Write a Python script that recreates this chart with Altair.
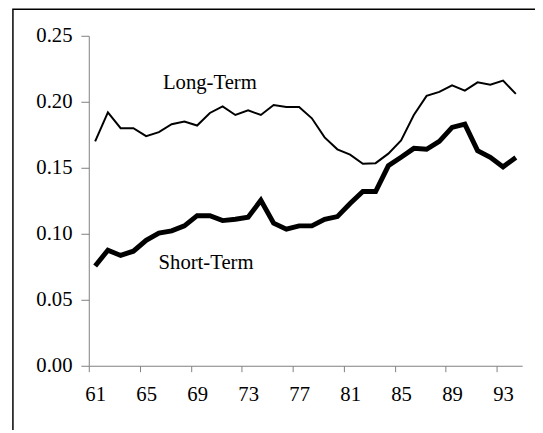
import altair as alt
import pandas as pd

years = list(range(61, 95))
long_term = [0.170, 0.192, 0.180, 0.180, 0.174, 0.177, 0.183, 0.185, 0.182, 0.1915,
             0.1965, 0.190, 0.1935, 0.190, 0.1975, 0.196, 0.196, 0.1875, 0.173, 0.164,
             0.160, 0.153, 0.1535, 0.1607, 0.1707, 0.190, 0.2045, 0.2075, 0.2125, 0.2085,
             0.2147, 0.213, 0.216, 0.206]
short_term = [0.0756, 0.0876, 0.0836, 0.0868, 0.095, 0.1005, 0.1022, 0.106, 0.1137, 0.1137,
              0.110, 0.111, 0.1125, 0.1254, 0.108, 0.1035, 0.106, 0.106, 0.111, 0.113,
              0.123, 0.132, 0.132, 0.1515, 0.158, 0.1647, 0.164, 0.170, 0.1806, 0.183,
              0.163, 0.158, 0.1507, 0.1577]
label_text = ["Long-Term", "Short-Term"]
label_year = [70.0, 69.7]
label_value = [0.2144, 0.0776]
tick_values = [60.5, 64.5, 68.5, 72.5, 76.5, 80.5, 84.5, 88.5, 92.5]

df = pd.DataFrame({"year": years, "Long-Term": long_term, "Short-Term": short_term})
labels = pd.DataFrame({"text": label_text, "year": label_year, "value": label_value})

FONT = "Liberation Serif"
FS = 21

xscale = alt.Scale(domain=[60.5, 94.5], nice=False, zero=False)
yscale = alt.Scale(domain=[0, 0.25], nice=False)

xaxis = alt.Axis(values=tick_values, labelExpr="format(datum.value + 0.5, 'd')",
                 labelOffset=6.5, grid=False, title=None, domainColor="#808080",
                 tickColor="#808080", tickSize=6, labelFont=FONT, labelFontSize=FS,
                 labelColor="black", labelPadding=12, labelFlush=False)
yaxis = alt.Axis(values=[0, 0.05, 0.1, 0.15, 0.2, 0.25], format=".2f", grid=False,
                 title=None, domainColor="#808080", tickColor="#808080", tickSize=8,
                 labelFont=FONT, labelFontSize=FS, labelColor="black", labelPadding=9)

base = alt.Chart(df)
long_line = base.mark_line(color="black", strokeWidth=2).encode(
    x=alt.X("year:Q", scale=xscale, axis=xaxis),
    y=alt.Y("Long-Term:Q", scale=yscale, axis=yaxis),
)
short_line = base.mark_line(color="black", strokeWidth=5, strokeJoin="miter").encode(
    x=alt.X("year:Q", scale=xscale),
    y=alt.Y("Short-Term:Q", scale=yscale),
)
text = alt.Chart(labels).mark_text(font=FONT, fontSize=FS, color="black").encode(
    x=alt.X("year:Q", scale=xscale),
    y=alt.Y("value:Q", scale=yscale),
    text="text:N",
)
frame = alt.Chart(pd.DataFrame({"a": [0]})).mark_rect(
    fill=None, stroke="black", strokeWidth=1.5, clip=False
).encode(x=alt.value(-77), x2=alt.value(480), y=alt.value(-27), y2=alt.value(420))

chart = alt.layer(frame, long_line, short_line, text).properties(
    width=440, height=335,
    autosize=alt.AutoSizeParams(type="none"),
    padding={"left": 82, "top": 25, "right": 13, "bottom": 62},
).configure_view(stroke=None)

chart.save("out.html", embed_options={"renderer": "svg", "actions": False})
